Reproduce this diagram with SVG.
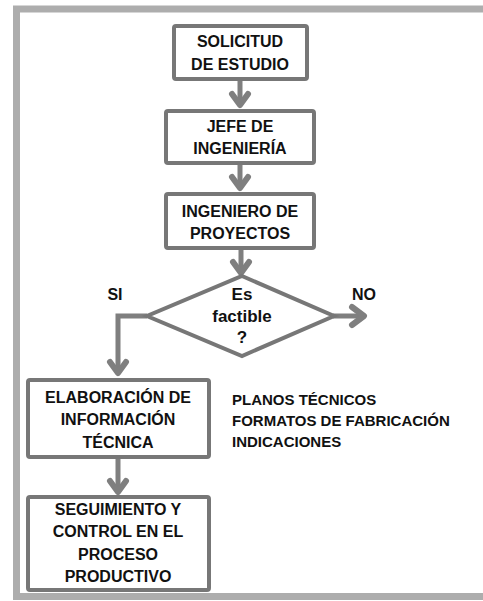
<svg xmlns="http://www.w3.org/2000/svg" width="483" height="601" viewBox="0 0 483 601">
<defs>
<style>
.frame{fill:#fff;stroke:#adadad;stroke-width:7}
.box{fill:#fff;stroke:#777;stroke-width:4}
.dia{fill:#fff;stroke:#777;stroke-width:4;stroke-linejoin:miter}
.ln{fill:none;stroke:#7f7f7f;stroke-width:5}
.hd{fill:none;stroke:#7f7f7f;stroke-width:6;stroke-linecap:round;stroke-linejoin:round}
text{font-family:"Liberation Sans",Arial,sans-serif;font-weight:bold;font-size:16px;fill:#111;text-anchor:middle}
.side{font-size:15px;text-anchor:start}
.dt{font-size:17px}
</style>
</defs>
<rect x="0" y="0" width="483" height="601" fill="#fff"/>
<rect class="frame" x="16.5" y="9" width="480" height="587.5"/>
<g id="connectors">
<line class="ln" x1="240" y1="81" x2="240" y2="104"/>
<polyline class="hd" points="232,94 240,105 248,94"/>
<line class="ln" x1="240" y1="165" x2="240" y2="188"/>
<polyline class="hd" points="232,177 240,188 248,177"/>
<line class="ln" x1="241" y1="250" x2="241" y2="272"/>
<polyline class="hd" points="233,262 241,273 249,262"/>
<line class="ln" x1="333" y1="316" x2="363" y2="316"/>
<polyline class="hd" points="352,307 364,316 352,325"/>
<polyline class="ln" points="147,316 118,316 118,372"/>
<polyline class="hd" points="110,362 118,373 126,362"/>
<line class="ln" x1="118" y1="459" x2="118" y2="491"/>
<polyline class="hd" points="110,481 118,492 126,481"/>
</g>
<g id="n1">
<rect class="box" x="174" y="26" width="133" height="53" rx="2"/>
<text x="240" y="47">SOLICITUD</text>
<text x="240" y="70">DE ESTUDIO</text>
</g>
<g id="n2">
<rect class="box" x="166" y="111" width="148" height="52" rx="2"/>
<text x="240" y="132">JEFE DE</text>
<text x="240" y="154">INGENIERÍA</text>
</g>
<g id="n3">
<rect class="box" x="166" y="194" width="148" height="54" rx="2"/>
<text x="240" y="217">INGENIERO DE</text>
<text x="240" y="239">PROYECTOS</text>
</g>
<g id="decision">
<polygon class="dia" points="242,276 334,316 242,356 147,316"/>
<text class="dt" x="242" y="300">Es</text>
<text class="dt" x="242" y="322">factible</text>
<text class="dt" x="242" y="343">?</text>
</g>
<g id="label-si"><text x="115" y="300">SI</text></g>
<g id="label-no"><text x="364" y="300">NO</text></g>
<g id="n4">
<rect class="box" x="28" y="380" width="181" height="77" rx="2"/>
<text x="118" y="403">ELABORACIÓN DE</text>
<text x="118" y="425">INFORMACIÓN</text>
<text x="118" y="448">TÉCNICA</text>
</g>
<g id="n5">
<rect class="box" x="28" y="497" width="181" height="93" rx="2"/>
<text x="118" y="515">SEGUIMIENTO Y</text>
<text x="118" y="537">CONTROL EN EL</text>
<text x="118" y="560">PROCESO</text>
<text x="118" y="582">PRODUCTIVO</text>
</g>
<g id="notes">
<text class="side" x="232" y="405">PLANOS TÉCNICOS</text>
<text class="side" x="232" y="426">FORMATOS DE FABRICACIÓN</text>
<text class="side" x="232" y="447">INDICACIONES</text>
</g>
</svg>
